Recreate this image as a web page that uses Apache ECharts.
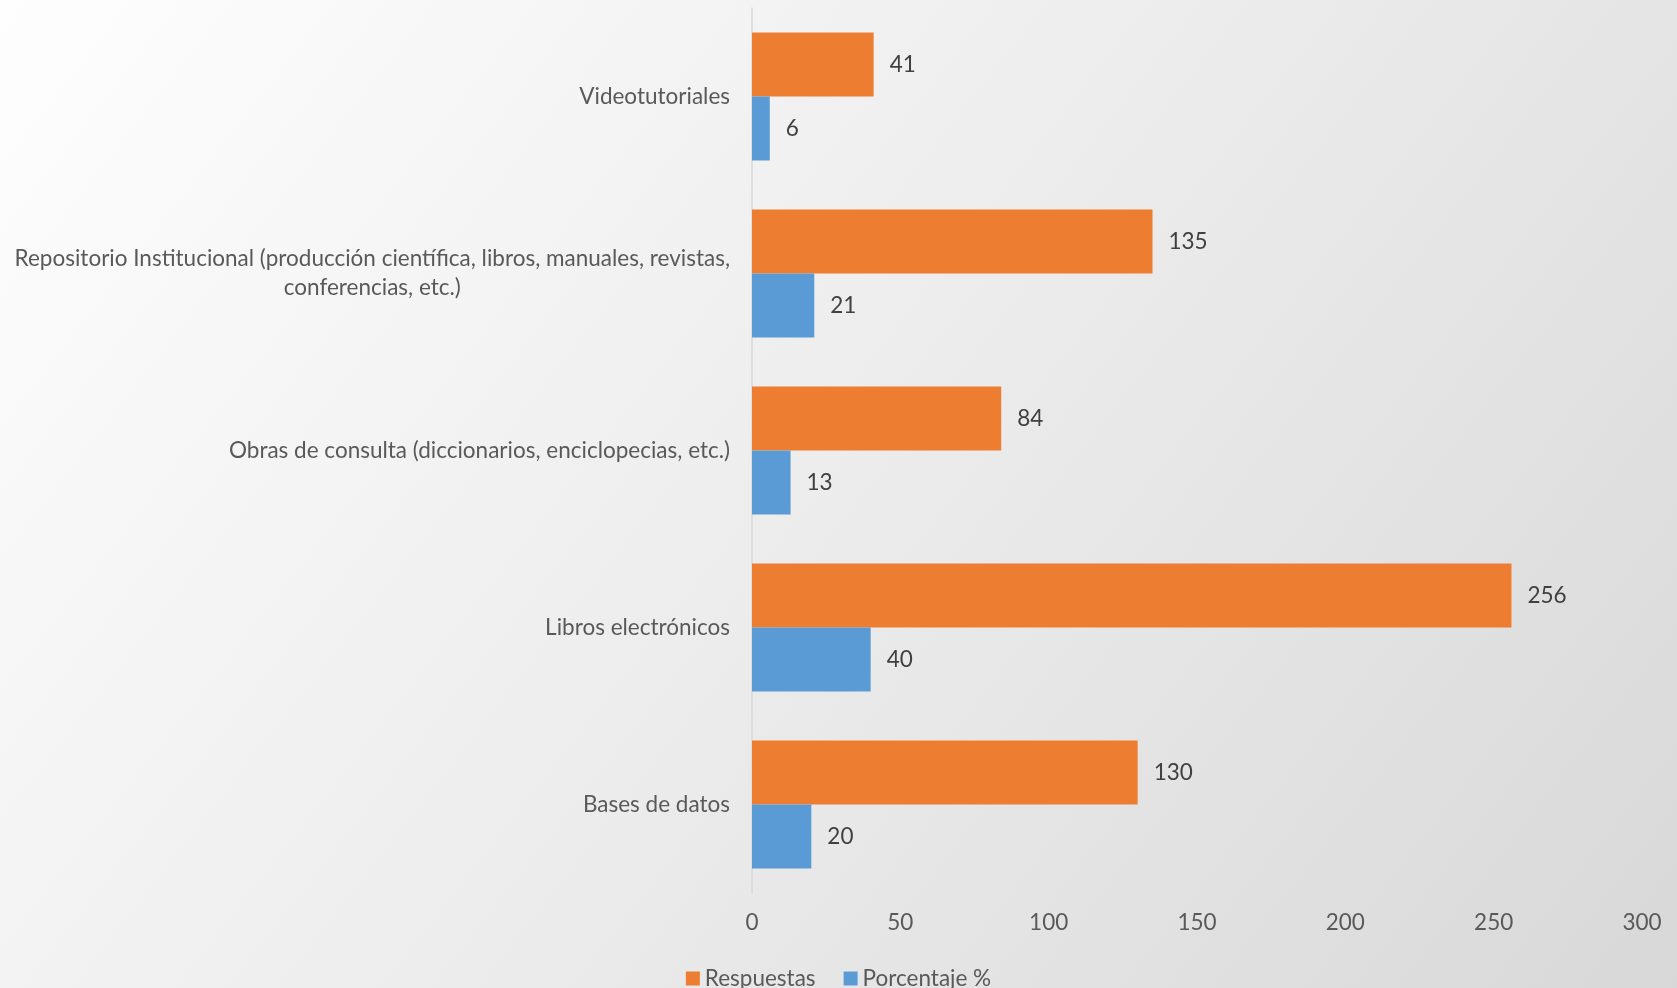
<!DOCTYPE html>
<html><head><meta charset="utf-8">
<script src="https://cdn.jsdelivr.net/npm/echarts@6/dist/echarts.min.js"></script>
<style>
html,body{margin:0;padding:0;}
#c{width:1677px;height:988px;background:linear-gradient(128deg,#fefefe 0%,#ececec 50%,#d8d8d8 100%);}
</style></head>
<body><div id="c"></div>
<script>
const categories = [
  "Bases de datos",
  "Libros electrónicos",
  "Obras de consulta (diccionarios, enciclopecias, etc.)",
  "Repositorio Institucional (producción científica, libros, manuales, revistas,\nconferencias, etc.)",
  "Videotutoriales"
];
const respuestas = [130, 256, 84, 135, 41];
const porcentaje = [20, 40, 13, 21, 6];
const xTicks = [0, 50, 100, 150, 200, 250, 300];

const FONT = 'Lato';
const FS = 22.5;
const cv = document.createElement('canvas').getContext('2d');
cv.font = FS + 'px ' + FONT;
let maxW = 0;
categories.forEach(c => c.split('\n').forEach(l => { maxW = Math.max(maxW, cv.measureText(l).width); }));

const chart = echarts.init(document.getElementById('c'), null, {renderer:'canvas'});
chart.setOption({
  backgroundColor: 'transparent',
  textStyle: {fontFamily: FONT},
  grid: {left: 752, right: 35, top: 8, bottom: 95, containLabel: false},
  legend: {
    data: ['Respuestas', 'Porcentaje %'],
    top: 962, left: 'center',
    itemWidth: 14, itemHeight: 14, itemGap: 28,
    icon: 'rect',
    textStyle: {fontSize: FS, color: '#595959', fontFamily: FONT}
  },
  xAxis: {
    type: 'value', min: xTicks[0], max: xTicks[xTicks.length-1], interval: 50,
    axisLine: {show: false}, axisTick: {show: false}, splitLine: {show: false},
    axisLabel: {fontSize: FS, color: '#595959', margin: 18, fontFamily: FONT}
  },
  yAxis: {
    type: 'category', data: categories,
    axisLine: {show: true, lineStyle: {color: '#d9d9d9', width: 1.5}},
    axisTick: {show: false},
    axisLabel: {
      fontSize: FS, color: '#595959', margin: 22, fontFamily: FONT, lineHeight: 29,
      formatter: function (v) {
        if (v.indexOf('\n') < 0) return v;
        return v.split('\n').map(l => '{c|' + l + '}').join('\n');
      },
      rich: {c: {width: maxW, align: 'center', fontSize: FS, color: '#595959', fontFamily: FONT, lineHeight: 29}}
    }
  },
  series: [
    {
      name: 'Respuestas', type: 'bar', data: respuestas,
      itemStyle: {color: '#ED7D31'},
      barGap: '0%', barCategoryGap: '27.7%',
      label: {show: true, position: 'right', distance: 16, fontSize: FS, color: '#404040', fontFamily: FONT}
    },
    {
      name: 'Porcentaje %', type: 'bar', data: porcentaje,
      itemStyle: {color: '#5B9BD5'},
      barGap: '0%', barCategoryGap: '27.7%',
      label: {show: true, position: 'right', distance: 16, fontSize: FS, color: '#404040', fontFamily: FONT}
    }
  ]
});
</script></body></html>
